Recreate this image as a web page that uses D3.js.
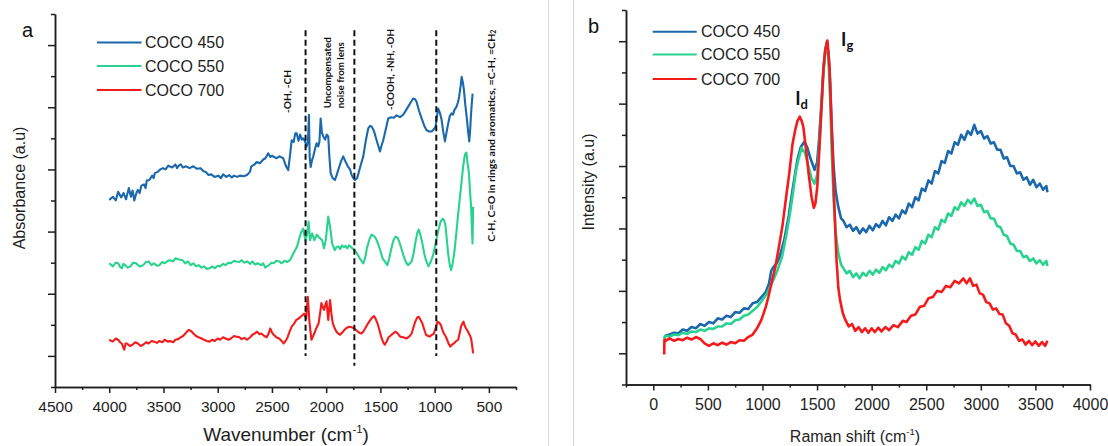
<!DOCTYPE html>
<html><head><meta charset="utf-8">
<script src="https://cdn.jsdelivr.net/npm/d3@7"></script>
<style>
html,body{margin:0;padding:0;background:#fff;}
svg{display:block;}
.axis path,.axis line{stroke:#1e1e1e;stroke-width:1.5;}
.axis text{font-family:"Liberation Sans",Arial,sans-serif;fill:#1e1e1e;}
</style></head><body>
<svg id="chart" width="1108" height="446"></svg>
<script>
// ---------- DATA ----------
const seriesNames = ["COCO 450", "COCO 550", "COCO 700"];

// FTIR (panel a): [wavenumber cm-1, absorbance a.u.]
const ftir450 = [[4000,3.01],[3965,3.06],[3940,3.00],[3918,3.14],[3890,3.05],[3868,3.12],[3845,3.02],[3819,3.20],[3800,3.06],[3785,3.16],[3769,3.00],[3750,3.12],[3736,3.17],[3720,3.12],[3703,3.24],[3680,3.26],[3665,3.20],[3654,3.32],[3630,3.33],[3604,3.40],[3590,3.36],[3580,3.44],[3555,3.46],[3530,3.50],[3505,3.52],[3480,3.50],[3456,3.56],[3420,3.53],[3390,3.58],[3375,3.52],[3360,3.56],[3341,3.58],[3320,3.53],[3291,3.55],[3260,3.52],[3225,3.55],[3190,3.51],[3159,3.52],[3130,3.47],[3110,3.46],[3085,3.41],[3060,3.42],[3030,3.38],[2994,3.40],[2970,3.36],[2950,3.42],[2920,3.38],[2895,3.41],[2870,3.37],[2850,3.40],[2820,3.38],[2796,3.40],[2760,3.39],[2730,3.41],[2703,3.46],[2690,3.55],[2660,3.58],[2640,3.62],[2611,3.60],[2580,3.66],[2560,3.68],[2534,3.76],[2515,3.70],[2500,3.72],[2480,3.70],[2457,3.68],[2430,3.71],[2396,3.68],[2370,3.55],[2350,3.49],[2335,3.70],[2318,3.97],[2300,3.94],[2285,4.08],[2272,4.08],[2255,3.96],[2240,4.06],[2225,3.98],[2211,4.00],[2195,3.95],[2180,3.87],[2168,3.95],[2159,4.38],[2152,3.70],[2143,3.54],[2130,3.65],[2119,3.71],[2100,3.85],[2088,3.92],[2073,3.87],[2062,3.95],[2051,4.32],[2040,4.10],[2027,4.03],[2010,3.98],[1995,4.06],[1981,4.03],[1970,3.70],[1959,3.44],[1940,3.36],[1919,3.33],[1905,3.40],[1889,3.49],[1865,3.62],[1843,3.71],[1820,3.62],[1797,3.54],[1780,3.50],[1765,3.41],[1750,3.36],[1735,3.33],[1715,3.36],[1700,3.45],[1680,3.58],[1658,3.71],[1635,3.96],[1612,4.16],[1595,4.20],[1581,4.19],[1560,4.12],[1535,3.97],[1520,3.88],[1504,3.79],[1490,3.88],[1474,3.97],[1450,4.15],[1428,4.32],[1400,4.34],[1375,4.33],[1351,4.37],[1320,4.34],[1290,4.38],[1265,4.45],[1244,4.51],[1220,4.58],[1198,4.64],[1180,4.63],[1167,4.59],[1145,4.45],[1120,4.32],[1095,4.20],[1074,4.13],[1050,4.11],[1028,4.11],[1010,4.14],[991,4.19],[978,4.36],[967,4.48],[950,4.40],[936,4.30],[920,4.10],[905,3.95],[890,4.10],[875,4.24],[860,4.36],[844,4.40],[830,4.38],[820,4.45],[798,4.51],[785,4.58],[774,4.67],[760,4.85],[751,4.99],[740,4.90],[730,4.78],[718,4.55],[705,4.35],[692,4.12],[681,3.95],[672,4.15],[666,4.35],[658,4.55],[650,4.72]];

const ftir550 = [[4000,1.99],[3967,1.94],[3940,2.00],[3918,1.99],[3900,1.93],[3885,1.91],[3870,1.98],[3852,1.96],[3830,1.92],[3803,1.94],[3780,2.00],[3753,1.99],[3720,1.94],[3687,1.96],[3660,2.01],[3637,2.02],[3610,1.96],[3588,1.99],[3560,1.95],[3539,1.96],[3510,2.01],[3489,1.99],[3460,2.03],[3440,2.04],[3410,2.02],[3390,2.07],[3357,2.05],[3324,2.04],[3300,1.99],[3275,2.02],[3250,1.96],[3225,1.99],[3200,1.94],[3176,1.96],[3150,1.92],[3126,1.94],[3100,1.90],[3077,1.91],[3050,1.94],[3027,1.91],[3000,1.95],[2978,1.94],[2950,1.98],[2928,1.96],[2900,2.00],[2879,1.99],[2850,2.03],[2829,2.02],[2800,2.01],[2780,2.04],[2755,2.00],[2730,2.02],[2700,1.98],[2680,2.02],[2655,1.97],[2631,1.99],[2600,1.96],[2582,1.99],[2560,1.92],[2549,1.94],[2525,1.96],[2505,2.00],[2483,1.99],[2460,2.03],[2433,2.02],[2410,1.99],[2384,2.03],[2360,2.01],[2334,2.04],[2301,2.15],[2268,2.26],[2235,2.47],[2212,2.55],[2192,2.36],[2176,2.45],[2162,2.66],[2149,2.36],[2129,2.47],[2110,2.36],[2087,2.45],[2063,2.40],[2037,2.36],[2020,2.23],[2004,2.36],[1981,2.74],[1964,2.58],[1945,2.31],[1921,2.20],[1905,2.25],[1888,2.26],[1870,2.22],[1855,2.28],[1838,2.25],[1823,2.27],[1805,2.23],[1790,2.28],[1770,2.25],[1757,2.23],[1724,2.17],[1691,2.07],[1658,1.99],[1640,2.08],[1625,2.23],[1600,2.38],[1582,2.45],[1560,2.43],[1542,2.39],[1520,2.30],[1502,2.20],[1480,2.07],[1460,2.02],[1437,1.96],[1420,2.06],[1403,2.20],[1380,2.36],[1360,2.42],[1340,2.40],[1327,2.34],[1305,2.22],[1285,2.10],[1265,2.01],[1245,1.96],[1212,2.02],[1195,2.14],[1179,2.31],[1160,2.48],[1146,2.53],[1130,2.44],[1113,2.31],[1095,2.14],[1080,2.04],[1057,1.94],[1035,2.02],[1014,2.12],[990,2.32],[965,2.53],[945,2.66],[925,2.71],[912,2.68],[899,2.58],[888,2.38],[876,2.15],[862,1.98],[849,1.88],[835,1.98],[816,2.20],[800,2.48],[783,2.79],[767,3.05],[750,3.33],[737,3.55],[724,3.71],[715,3.76],[707,3.77],[698,3.62],[684,3.44],[674,3.15],[664,2.90],[651,2.31],[648,2.60],[645,2.90]];

const ftir700 = [[4000,0.76],[3967,0.73],[3940,0.78],[3918,0.76],[3900,0.72],[3885,0.70],[3862,0.60],[3850,0.70],[3836,0.70],[3810,0.66],[3786,0.68],[3760,0.72],[3736,0.70],[3710,0.66],[3687,0.68],[3660,0.72],[3637,0.70],[3610,0.74],[3588,0.73],[3560,0.71],[3539,0.74],[3510,0.72],[3489,0.76],[3460,0.73],[3440,0.74],[3410,0.72],[3390,0.76],[3365,0.77],[3341,0.80],[3320,0.82],[3298,0.86],[3280,0.90],[3265,0.92],[3245,0.90],[3225,0.86],[3200,0.82],[3176,0.80],[3150,0.78],[3126,0.76],[3100,0.74],[3077,0.73],[3050,0.76],[3027,0.74],[3000,0.78],[2978,0.76],[2950,0.80],[2928,0.78],[2900,0.76],[2879,0.78],[2850,0.82],[2829,0.81],[2800,0.80],[2780,0.77],[2755,0.79],[2730,0.76],[2700,0.80],[2680,0.84],[2660,0.86],[2637,0.89],[2615,0.85],[2598,0.86],[2570,0.82],[2549,0.80],[2530,0.86],[2516,0.94],[2500,0.88],[2483,0.84],[2460,0.80],[2433,0.78],[2410,0.74],[2394,0.70],[2375,0.74],[2360,0.78],[2340,0.88],[2318,0.97],[2295,1.02],[2275,1.08],[2255,1.10],[2235,1.13],[2215,1.16],[2202,1.18],[2185,1.10],[2169,1.45],[2156,1.08],[2145,0.90],[2136,0.76],[2120,0.82],[2110,0.86],[2090,0.95],[2070,1.02],[2055,1.20],[2044,1.35],[2030,1.28],[2020,1.24],[2008,1.32],[1997,1.38],[1981,1.08],[1964,1.40],[1950,1.15],[1938,1.02],[1920,0.94],[1905,0.89],[1888,0.86],[1872,0.84],[1850,0.88],[1832,0.92],[1810,0.95],[1790,0.97],[1765,0.96],[1740,0.94],[1720,0.91],[1707,0.89],[1690,0.87],[1674,0.86],[1655,0.90],[1641,0.94],[1615,1.02],[1592,1.08],[1575,1.12],[1559,1.14],[1545,1.10],[1526,1.02],[1510,0.92],[1493,0.81],[1475,0.72],[1460,0.68],[1440,0.74],[1425,0.80],[1410,0.82],[1385,0.86],[1360,0.89],[1340,0.86],[1318,0.81],[1290,0.80],[1262,0.78],[1235,0.81],[1212,0.86],[1195,0.96],[1179,1.05],[1160,1.12],[1146,1.13],[1130,1.08],[1113,1.02],[1095,0.92],[1080,0.84],[1060,0.82],[1047,0.81],[1025,0.84],[1007,0.86],[990,0.95],[974,1.05],[960,1.04],[941,0.99],[928,0.92],[915,0.86],[900,0.82],[889,0.78],[872,0.70],[856,0.65],[840,0.68],[823,0.70],[800,0.74],[783,0.76],[770,0.86],[757,0.97],[745,1.02],[734,1.05],[722,0.98],[710,0.94],[695,0.90],[684,0.86],[672,0.82],[664,0.78],[657,0.70],[651,0.62],[645,0.54]];

// Raman (panel b): [Raman shift cm-1, intensity a.u.]
const raman450 = [[100,0.74],[112,0.78],[150,0.80],[190,0.83],[230,0.82],[270,0.88],[310,0.86],[350,0.92],[390,0.90],[430,0.97],[470,0.94],[510,1.00],[550,0.98],[590,1.06],[630,1.04],[670,1.10],[710,1.08],[750,1.16],[790,1.15],[830,1.22],[870,1.21],[910,1.30],[950,1.32],[990,1.40],[1030,1.48],[1060,1.62],[1080,1.82],[1100,1.88],[1130,1.94],[1160,2.06],[1200,2.32],[1240,2.70],[1280,3.17],[1320,3.60],[1350,3.80],[1384,3.89],[1410,3.80],[1440,3.62],[1477,3.44],[1500,3.55],[1518,3.92],[1540,4.50],[1556,4.99],[1575,5.35],[1590,5.49],[1605,5.30],[1620,4.83],[1635,4.10],[1652,3.49],[1670,3.10],[1694,2.85],[1720,2.66],[1742,2.62],[1770,2.52],[1800,2.56],[1830,2.46],[1860,2.52],[1890,2.42],[1920,2.50],[1950,2.44],[1980,2.54],[2010,2.47],[2040,2.57],[2070,2.52],[2100,2.62],[2130,2.55],[2160,2.68],[2190,2.62],[2220,2.72],[2250,2.66],[2280,2.79],[2310,2.74],[2340,2.90],[2370,2.84],[2400,3.00],[2430,2.95],[2460,3.14],[2490,3.10],[2520,3.27],[2550,3.22],[2580,3.42],[2610,3.38],[2640,3.58],[2670,3.55],[2700,3.74],[2730,3.70],[2760,3.88],[2790,3.84],[2820,4.00],[2850,3.92],[2880,4.06],[2910,4.00],[2940,4.16],[2970,4.02],[3000,4.06],[3030,3.94],[3060,3.98],[3090,3.86],[3120,3.88],[3150,3.76],[3180,3.76],[3210,3.62],[3240,3.64],[3270,3.50],[3300,3.50],[3330,3.38],[3360,3.40],[3390,3.28],[3420,3.32],[3450,3.20],[3480,3.28],[3510,3.16],[3540,3.22],[3570,3.12],[3600,3.18],[3610,3.08]];

const raman550 = [[100,0.74],[112,0.78],[150,0.77],[190,0.80],[230,0.79],[272,0.83],[310,0.81],[350,0.85],[390,0.84],[431,0.88],[470,0.86],[510,0.90],[550,0.89],[591,0.93],[630,0.93],[670,0.98],[710,0.97],[751,1.03],[790,1.04],[830,1.10],[870,1.12],[911,1.18],[950,1.24],[990,1.33],[1039,1.45],[1080,1.60],[1135,1.82],[1180,2.05],[1214,2.35],[1250,2.72],[1278,3.05],[1305,3.40],[1326,3.58],[1358,3.79],[1390,3.71],[1420,3.50],[1450,3.30],[1477,3.22],[1500,3.35],[1518,3.76],[1540,4.40],[1556,4.93],[1575,5.35],[1590,5.47],[1605,5.20],[1620,4.56],[1635,3.70],[1652,2.96],[1670,2.45],[1694,2.11],[1720,1.92],[1742,1.86],[1770,1.78],[1800,1.82],[1830,1.72],[1860,1.78],[1890,1.70],[1920,1.79],[1950,1.74],[1980,1.82],[2010,1.76],[2040,1.84],[2070,1.79],[2100,1.88],[2130,1.83],[2160,1.92],[2190,1.88],[2220,1.98],[2250,1.94],[2280,2.05],[2310,2.00],[2340,2.12],[2370,2.08],[2400,2.20],[2430,2.16],[2460,2.30],[2490,2.26],[2520,2.40],[2550,2.36],[2580,2.52],[2610,2.48],[2640,2.64],[2670,2.60],[2700,2.74],[2730,2.70],[2760,2.84],[2790,2.80],[2820,2.92],[2850,2.86],[2880,2.96],[2910,2.90],[2940,2.98],[2970,2.86],[3000,2.88],[3030,2.76],[3060,2.78],[3090,2.66],[3120,2.66],[3150,2.54],[3180,2.52],[3210,2.40],[3240,2.38],[3270,2.26],[3300,2.24],[3330,2.14],[3360,2.14],[3390,2.04],[3420,2.06],[3450,1.98],[3480,2.02],[3510,1.94],[3540,1.99],[3570,1.92],[3600,1.98],[3610,1.90]];

const raman700 = [[100,0.48],[102,0.72],[112,0.70],[150,0.74],[190,0.70],[230,0.73],[270,0.71],[310,0.75],[350,0.72],[390,0.76],[430,0.73],[470,0.66],[510,0.62],[550,0.66],[590,0.63],[630,0.67],[670,0.64],[710,0.68],[750,0.66],[790,0.71],[830,0.70],[870,0.76],[911,0.80],[950,0.90],[991,1.04],[1030,1.24],[1055,1.41],[1090,1.68],[1119,1.89],[1150,2.20],[1182,2.53],[1215,2.98],[1246,3.39],[1275,3.85],[1300,4.08],[1320,4.22],[1342,4.29],[1360,4.22],[1374,4.13],[1400,3.75],[1422,3.39],[1450,3.00],[1470,2.83],[1485,2.90],[1502,3.17],[1525,3.90],[1544,4.56],[1560,5.10],[1575,5.36],[1595,5.51],[1614,5.09],[1630,4.30],[1646,3.49],[1662,2.70],[1678,2.00],[1695,1.55],[1710,1.36],[1735,1.15],[1758,1.04],[1790,0.93],[1820,0.97],[1850,0.86],[1880,0.92],[1910,0.84],[1940,0.90],[1970,0.83],[2000,0.90],[2030,0.84],[2060,0.91],[2090,0.85],[2125,0.92],[2160,0.87],[2200,0.95],[2240,0.92],[2285,1.02],[2320,1.00],[2360,1.10],[2400,1.12],[2440,1.24],[2480,1.26],[2520,1.38],[2560,1.40],[2600,1.50],[2640,1.48],[2680,1.58],[2720,1.56],[2760,1.66],[2800,1.62],[2840,1.70],[2870,1.62],[2900,1.70],[2930,1.58],[2960,1.60],[2990,1.46],[3020,1.44],[3050,1.32],[3080,1.30],[3110,1.20],[3140,1.22],[3170,1.13],[3200,1.12],[3230,0.98],[3260,0.94],[3290,0.82],[3320,0.80],[3350,0.70],[3380,0.72],[3410,0.64],[3440,0.70],[3470,0.63],[3500,0.69],[3530,0.62],[3560,0.68],[3590,0.62],[3610,0.70]];

const ftirTickLabels = [4500,4000,3500,3000,2500,2000,1500,1000,500];
const ftirMinorTicks = [4250,3750,3250,2750,2250,1750,1250,750,250];
const ramanTickLabels = [0,500,1000,1500,2000,2500,3000,3500,4000];
const ramanMinorTicks = [-250,250,750,1250,1750,2250,2750,3250,3750];
const yMajorTicks = [0.5,1.5,2.5,3.5,4.5,5.5];
const yMinorTicks = [0,1,2,3,4,5,6];

// band markers in panel a (wavenumber) and their vertical extent (a.u.)
const bandLines = [2190, 1740, 985];
const bandTop = 5.74;
const bandBottoms = [0.50, 0.34, 0.50];
const bandLabels = ["-OH, -CH", "Uncompensated", "noise from lens", "-COOH, -NH, -OH", "C-H, C=O in rings and aromatics, =C-H, =CH"];

// ---------- DRAW ----------
const colors = ["#1b68ad", "#29d38f", "#f41b1d"];
const svg = d3.select("#chart");
const FONT = '"Liberation Sans", Arial, sans-serif';

// separators
svg.append("line").attr("x1",548.5).attr("x2",548.5).attr("y1",0).attr("y2",446).attr("stroke","#d6d6d6").attr("stroke-width",1);
svg.append("line").attr("x1",573.5).attr("x2",573.5).attr("y1",0).attr("y2",446).attr("stroke","#d6d6d6").attr("stroke-width",1);

const xL = d3.scaleLinear().domain([4500, 250]).range([55, 516]);
const yL = d3.scaleLinear().domain([0, 6]).range([387, 14]);
const xR = d3.scaleLinear().domain([-250, 4000]).range([626, 1090]);
const yR = d3.scaleLinear().domain([0, 6]).range([384.5, 10]);

function drawAxes(x, y, majors, minors, fs, pad) {
  const y0 = y.range()[0], x0 = x.range()[0];
  const gx1 = svg.append("g").attr("class","axis").attr("transform",`translate(0,${y0})`)
    .call(d3.axisBottom(x).tickValues(majors).tickSize(6).tickSizeOuter(0).tickPadding(pad).tickFormat(d3.format("d")));
  gx1.selectAll("text").style("font-size", fs + "px");
  svg.append("g").attr("class","axis").attr("transform",`translate(0,${y0})`)
    .call(d3.axisBottom(x).tickValues(minors).tickSize(3).tickSizeOuter(0).tickFormat(""));
  svg.append("g").attr("class","axis").attr("transform",`translate(${x0},0)`)
    .call(d3.axisLeft(y).tickValues(yMajorTicks).tickSize(7).tickSizeOuter(0).tickFormat(""));
  svg.append("g").attr("class","axis").attr("transform",`translate(${x0},0)`)
    .call(d3.axisLeft(y).tickValues(yMinorTicks).tickSize(4).tickSizeOuter(0).tickFormat(""));
}
drawAxes(xL, yL, ftirTickLabels, ftirMinorTicks, 15.5, 7.5);
drawAxes(xR, yR, ramanTickLabels, ramanMinorTicks, 16, 8);

// lines
function drawSeries(data, x, y, color, w) {
  svg.append("path").datum(data)
    .attr("fill","none").attr("stroke",color).attr("stroke-width",w)
    .attr("stroke-linejoin","round")
    .attr("d", d3.line().x(d => x(d[0])).y(d => y(d[1])));
}
[ftir450, ftir550, ftir700].forEach((s,i) => drawSeries(s, xL, yL, colors[i], 2.1));
[raman450, raman550, raman700].forEach((s,i) => drawSeries(s, xR, yR, colors[i], 2.6));

// band dashed lines
bandLines.forEach((v,i) => {
  svg.append("line").attr("x1",xL(v)).attr("x2",xL(v)).attr("y1",yL(bandTop)).attr("y2",yL(bandBottoms[i]))
    .attr("stroke","#111").attr("stroke-width",2).attr("stroke-dasharray","6,3.5");
});

// band labels (rotated)
const annFont = 'Lato, "Open Sans", sans-serif';
function rotText(cx, startY, txt, len, sub) {
  const t = svg.append("text").attr("transform",`translate(${cx},${startY}) rotate(-90)`)
    .attr("dominant-baseline","central").style("font-family",annFont).style("font-weight","bold")
    .style("font-size","10px").attr("fill","#111");
  const m = t.append("tspan").text(txt).attr("textLength", len).attr("lengthAdjust","spacingAndGlyphs");
  if (sub) t.append("tspan").attr("dy",2.5).style("font-size","7px").text(sub);
  return t;
}
rotText(286.7, 113, bandLabels[0], 43);
rotText(326.7, 108.3, bandLabels[1], 71);
rotText(340, 108.3, bandLabels[2], 66);
rotText(390, 110, bandLabels[3], 81);
rotText(490.5, 241.7, bandLabels[4], 208, "2");

// legends
function legend(x1, x2, ys, tx) {
  seriesNames.forEach((n,i) => {
    svg.append("line").attr("x1",x1).attr("x2",x2).attr("y1",ys[i]).attr("y2",ys[i])
      .attr("stroke",colors[i]).attr("stroke-width",2);
    svg.append("text").attr("x",tx).attr("y",ys[i]).attr("dominant-baseline","central")
      .style("font-family",FONT).style("font-size","16px").attr("fill","#1e1e1e").text(n);
  });
}
legend(97, 141.5, [42.5, 66, 90], 145);
legend(652.7, 696.7, [31.7, 54.5, 79], 701);

// panel letters
svg.append("text").attr("x",22).attr("y",36.7).style("font-family",FONT).style("font-size","20px").attr("fill","#111").text("a");
svg.append("text").attr("x",588).attr("y",33).style("font-family",FONT).style("font-size","20px").attr("fill","#111").text("b");

// axis titles
function titleH(cx, by, fs, main) {
  const t = svg.append("text").attr("x",cx).attr("y",by).attr("text-anchor","middle")
    .style("font-family",FONT).style("font-size",fs+"px").attr("fill","#1e1e1e");
  t.append("tspan").text(main + " (cm");
  t.append("tspan").attr("dy",-fs*0.38).style("font-size",(fs*0.6)+"px").text("-1");
  t.append("tspan").attr("dy",fs*0.38).text(")");
}
titleH(286, 440.5, 19, "Wavenumber");
titleH(855, 441.5, 16, "Raman shift");
function titleV(cx, cy, fs, txt) {
  svg.append("text").attr("transform",`translate(${cx},${cy}) rotate(-90)`).attr("text-anchor","middle")
    .attr("dominant-baseline","central").style("font-family",FONT).style("font-size",fs+"px")
    .attr("fill","#1e1e1e").text(txt);
}
titleV(19, 188, 16, "Absorbance (a.u)");
titleV(588, 182, 16, "Intensity (a.u)");

// peak labels
function peakLabel(x, y, sub) {
  const t = svg.append("text").attr("x",x).attr("y",y).style("font-family",annFont)
    .style("font-weight","bold").style("font-size","18px").attr("fill","#111");
  t.append("tspan").text("I");
  t.append("tspan").attr("dy",4).style("font-size","13px").text(sub);
}
peakLabel(xR(1300), 105, "d");
peakLabel(xR(1720), 46, "g");
</script>
</body></html>
